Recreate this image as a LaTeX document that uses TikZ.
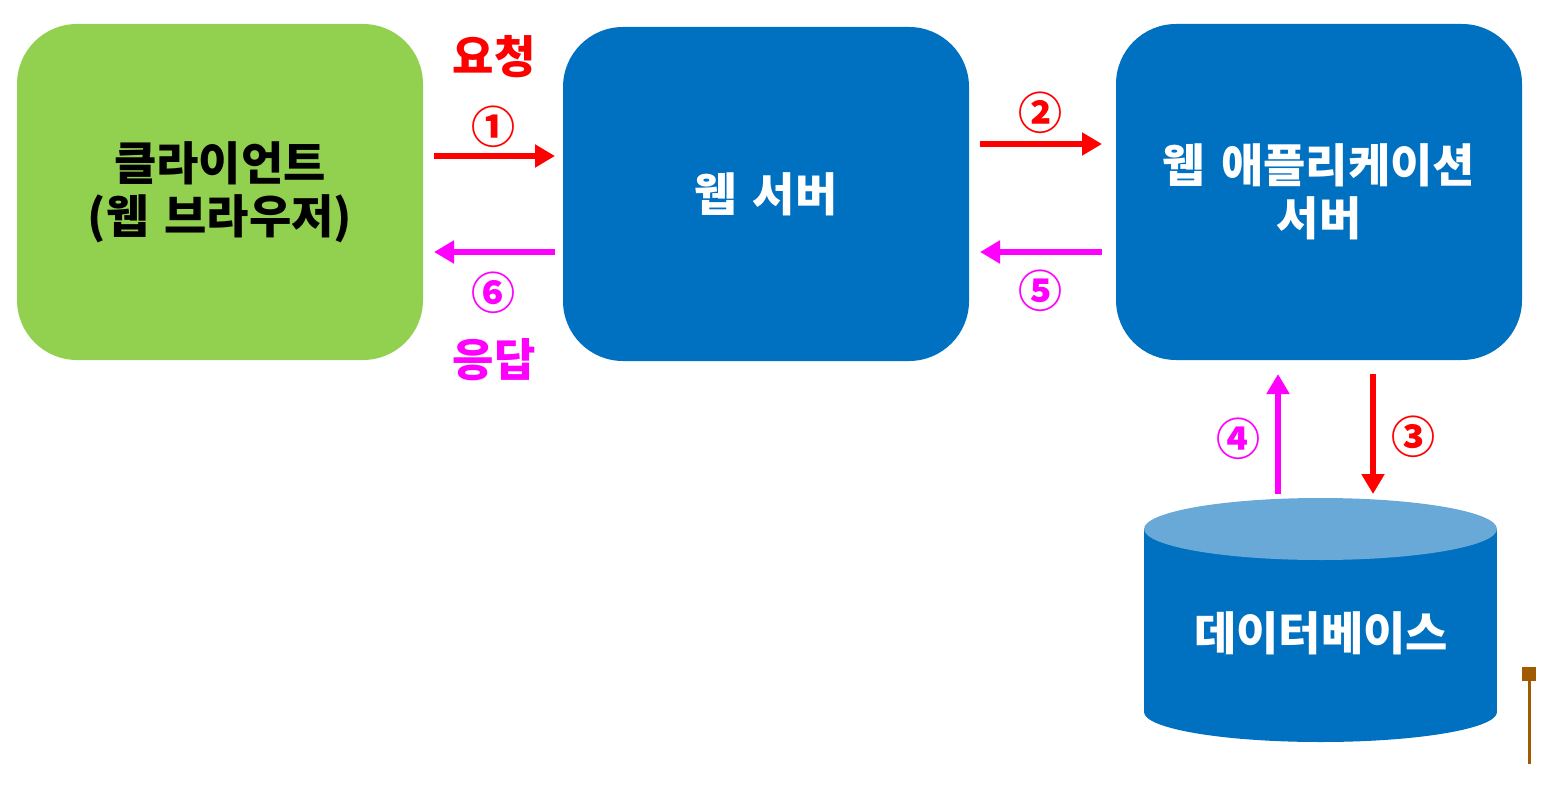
\documentclass[tikz,border=0pt]{standalone}
\usepackage{fontspec}
\setmainfont{Noto Sans CJK KR}
\usetikzlibrary{arrows.meta}
\definecolor{cgreen}{HTML}{92D050}
\definecolor{cblue}{HTML}{0070C0}
\definecolor{ctop}{HTML}{69A9D8}
\definecolor{cred}{HTML}{FF0000}
\definecolor{cmag}{HTML}{FF00FF}
\definecolor{cbrown}{HTML}{A05A00}
\newcommand{\wsp}{\hspace{16pt}}
\tikzset{
  box/.style={rounded corners=60pt, minimum width=406pt, minimum height=336pt, inner sep=0pt, font=\fontsize{46}{53}\selectfont\bfseries, align=center},
  flow/.style={line width=6pt, -{Triangle[length=20pt,width=22pt]}},
  numlbl/.style={font=\fontsize{44}{46}\selectfont\bfseries, inner sep=0pt},
  wordlbl/.style={font=\fontsize{45}{48}\selectfont\bfseries, inner sep=0pt},
}
\begin{document}
\begin{tikzpicture}[x=1pt,y=-1pt]
\useasboundingbox (0,0) rectangle (1554,786);
% boxes
\node[box, fill=cgreen, text=black] (client) at (220,192) {클라이언트\\(웹\wsp 브라우저)};
\node[box, fill=cblue, text=white, minimum height=334pt] (web) at (766,194) {웹\wsp 서버};
\node[box, fill=cblue, text=white] (was) at (1319,192) {웹\wsp 애플리케이션\\서버};
% database cylinder
\fill[cblue] (1144,529) rectangle (1497,712);
\fill[cblue] (1320.5,712) ellipse [x radius=176.5pt, y radius=30pt];
\fill[ctop] (1320.5,529) ellipse [x radius=176.5pt, y radius=31pt];
\node[font=\fontsize{46}{50}\selectfont\bfseries, text=white] (db) at (1321,633) {데이터베이스};
\coordinate (dbtop4) at (1278,494);
\coordinate (dbtop3) at (1373,494);
\coordinate (was4) at (1278,374);
\coordinate (was3) at (1373,374);
% arrow endpoints
\coordinate (c1) at (434,156);
\coordinate (w1) at (555,156);
\coordinate (w6) at (555,252);
\coordinate (c6) at (434,252);
\coordinate (w2) at (980,144);
\coordinate (a2) at (1102,144);
\coordinate (a5) at (1102,252);
\coordinate (w5) at (980,252);
% arrows
\draw[flow, cred] (c1) -- (w1);
\draw[flow, cmag] (w6) -- (c6);
\draw[flow, cred] (w2) -- (a2);
\draw[flow, cmag] (a5) -- (w5);
\draw[flow, cmag] (dbtop4) -- (was4);
\draw[flow, cred] (was3) -- (dbtop3);
% labels
\node[wordlbl, text=cred] (req) at (494,57) {요청};
\node[wordlbl, text=cmag] (res) at (494,360) {응답};
\node[numlbl, text=cred] (n1) at (493,127) {①};
\node[numlbl, text=cmag] (n6) at (493,293) {⑥};
\node[numlbl, text=cred] (n2) at (1040,113) {②};
\node[numlbl, text=cmag] (n5) at (1040,291) {⑤};
\node[numlbl, text=cmag] (n4) at (1238,439) {④};
\node[numlbl, text=cred] (n3) at (1413,437) {③};
% brown marker
\fill[cbrown] (1522,667) rectangle (1536,681);
\draw[cbrown, line width=3pt] (1529,681) -- (1529,764);
\end{tikzpicture}
\end{document}
